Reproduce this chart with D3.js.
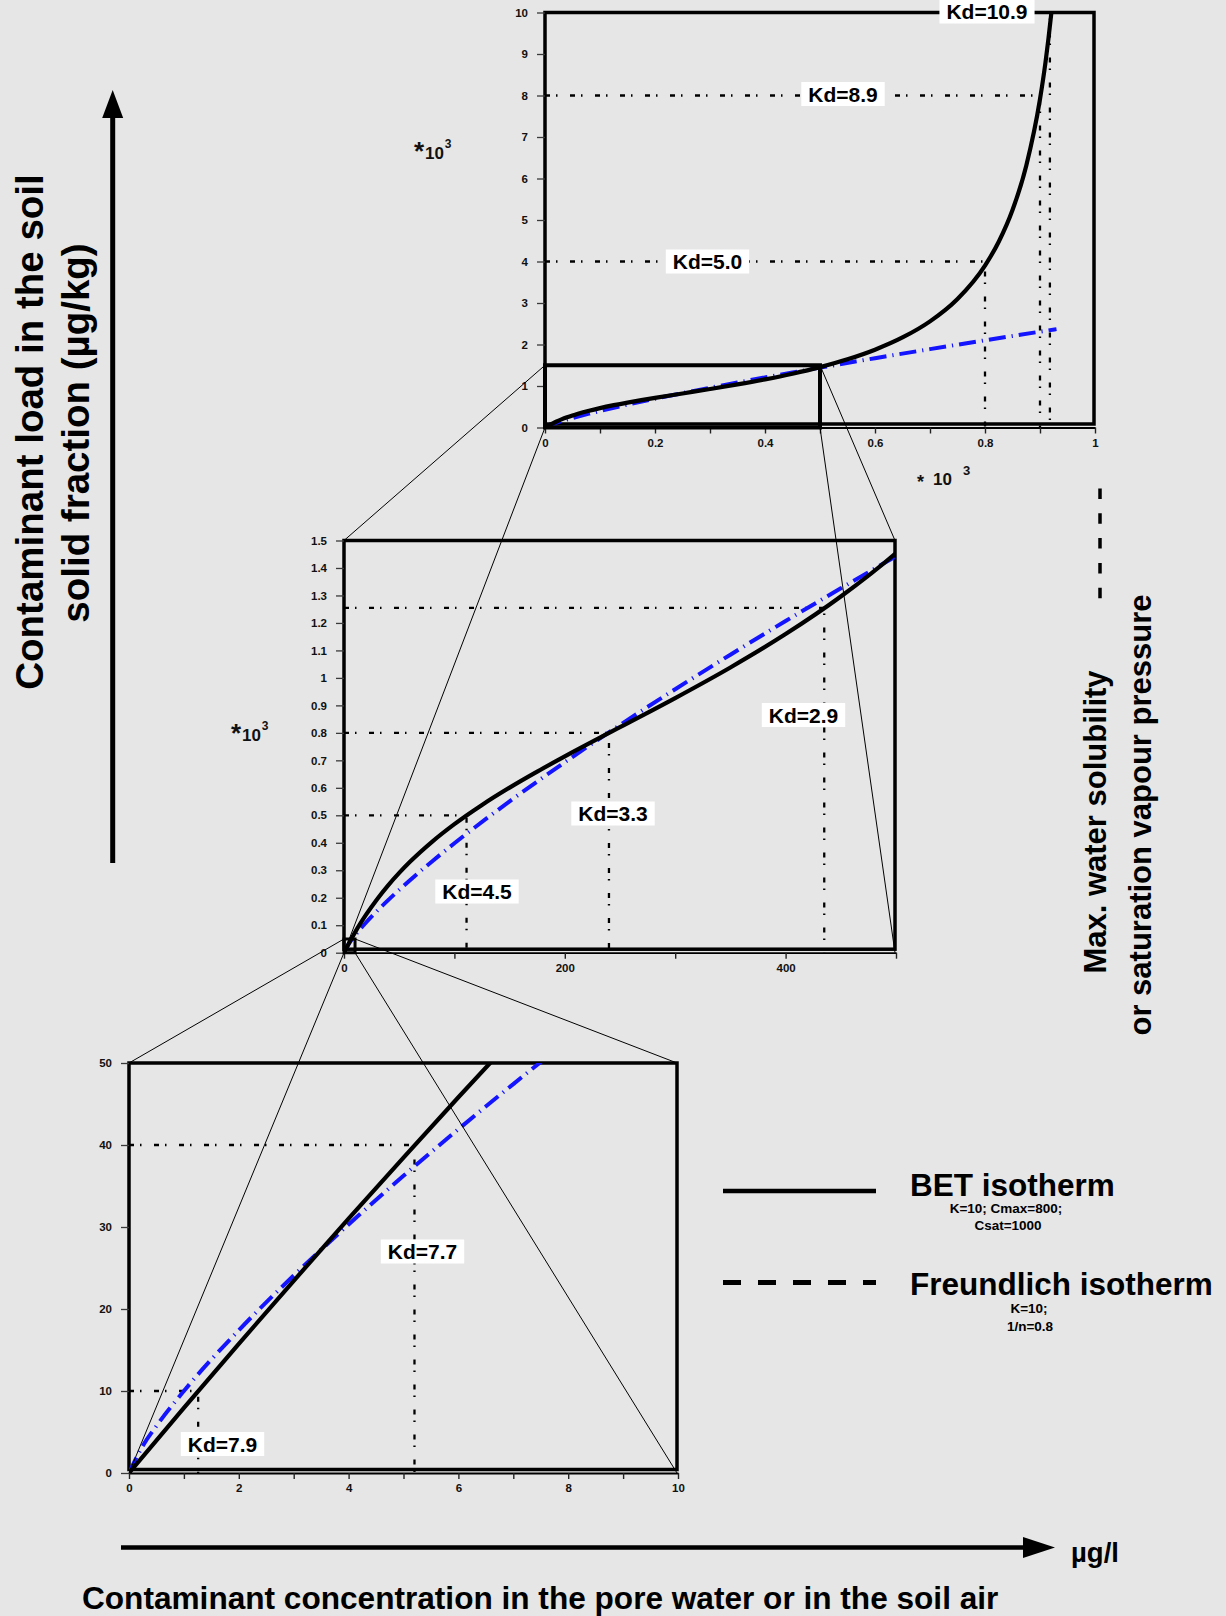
<!DOCTYPE html>
<html>
<head>
<meta charset="utf-8">
<script src="https://cdn.jsdelivr.net/npm/d3@7"></script>
<style>
  html, body { margin: 0; padding: 0; background: #e6e6e6; }
  svg { display: block; font-family: "Liberation Sans", Arial, Helvetica, sans-serif; font-weight: bold; }
</style>
</head>
<body>
<svg id="chart" width="1226" height="1616"></svg>
<script>
// BET isotherm (K=10; Cmax=800; Csat=1000): pore-water concentration (µg/l) and sorbed load (µg/kg)
const betConc = [0, 1, 2, 3, 4, 5, 6, 7, 8, 10, 15, 20, 30, 40, 50, 60, 80, 100, 125, 150, 175, 200,
  250, 300, 350, 400, 450, 500, 550, 600, 650, 700, 750, 800, 825, 850, 875, 900, 910, 920, 921];
const betLoad = [0, 7.94, 15.75, 23.44, 31.01, 38.47, 45.82, 53.05, 60.18, 74.1, 107.3, 138.4, 194.8,
  245.1, 290.4, 331.6, 404.4, 467.8, 537.8, 600.8, 659.0, 714.3, 820.5, 926.6, 1038.0, 1159.4, 1296.1,
  1454.5, 1643.3, 1875.0, 2168.9, 2557.1, 3096.8, 3902.4, 4476.4, 5240.8, 6309.9, 7911.9, 8801.8, 9914, 10041];

// Freundlich isotherm (K=10; 1/n=0.8)
const freundConc = [0, 0.25, 0.5, 1, 2, 3, 4, 5, 6, 7, 8, 10, 15, 20, 30, 40, 50, 60, 80, 100, 150, 200,
  250, 300, 350, 400, 450, 500, 600, 700, 800, 900, 930];
const freundLoad = [0, 3.30, 5.74, 10, 17.41, 24.08, 30.31, 36.24, 41.93, 47.43, 52.78, 63.10, 87.27,
  109.9, 152.0, 191.3, 228.7, 264.6, 333.1, 398.1, 550.7, 693.1, 828.7, 958.8, 1084.5, 1207, 1326,
  1442.7, 1669, 1889, 2101, 2309, 2370];

// Read-off points on the BET curve; Kd = load / concentration
const kdHighConc = [800, 900, 918];
const kdHighLoad = [4000, 8000, 10000];
const kdMidConc = [111, 240, 435];
const kdMidLoad = [500, 800, 1255];
const kdLowConc = [1.26, 5.2];
const kdLowLoad = [10, 40];

// Axis extents per magnification level
const highXMax = 1000, highYMax = 10000;
const midXMax = 500, midYMax = 1500;
const lowXMax = 10, lowYMax = 50;

// Tick values and their labels
const highXTicks = [0, 100, 200, 300, 400, 500, 600, 700, 800, 900, 1000];
const highXTickLabels = ["0", "", "0.2", "", "0.4", "", "0.6", "", "0.8", "", "1"];
const highYTicks = [0, 1000, 2000, 3000, 4000, 5000, 6000, 7000, 8000, 9000, 10000];
const highYTickLabels = ["0", "1", "2", "3", "4", "5", "6", "7", "8", "9", "10"];
const midXTicks = [0, 100, 200, 300, 400, 500];
const midXTickLabels = ["0", "", "200", "", "400", ""];
const midYTicks = [0, 100, 200, 300, 400, 500, 600, 700, 800, 900, 1000, 1100, 1200, 1300, 1400, 1500];
const midYTickLabels = ["0", "0.1", "0.2", "0.3", "0.4", "0.5", "0.6", "0.7", "0.8", "0.9", "1",
  "1.1", "1.2", "1.3", "1.4", "1.5"];
const lowXTicks = [0, 1, 2, 3, 4, 5, 6, 7, 8, 9, 10];
const lowXTickLabels = ["0", "", "2", "", "4", "", "6", "", "8", "", "10"];
const lowYTicks = [0, 10, 20, 30, 40, 50];
const lowYTickLabels = ["0", "10", "20", "30", "40", "50"];

const svg = d3.select("#chart");
const BLUE = "#1414ff";

const bet = betConc.map((c, i) => [c, betLoad[i]]);
const freund = freundConc.map((c, i) => [c, freundLoad[i]]);

// panel geometry (pixels)
const panels = [
  { id: "high", left: 545, right: 1095, bottom: 427.5, top: 12.5, xMax: highXMax, yMax: highYMax,
    xTicks: highXTicks, xLabels: highXTickLabels, yTicks: highYTicks, yLabels: highYTickLabels,
    kdC: kdHighConc, kdQ: kdHighLoad,
    labelPos: [[707.5, 261.5], [843, 94], [987, 11.5]] },
  { id: "mid", left: 344, right: 896, bottom: 952.7, top: 540.5, xMax: midXMax, yMax: midYMax,
    xTicks: midXTicks, xLabels: midXTickLabels, yTicks: midYTicks, yLabels: midYTickLabels,
    kdC: kdMidConc, kdQ: kdMidLoad,
    labelPos: [[477, 891.5], [613, 813.5], [803.5, 715]] },
  { id: "low", left: 129, right: 678, bottom: 1473, top: 1063, xMax: lowXMax, yMax: lowYMax,
    xTicks: lowXTicks, xLabels: lowXTickLabels, yTicks: lowYTicks, yLabels: lowYTickLabels,
    kdC: kdLowConc, kdQ: kdLowLoad,
    labelPos: [[222.5, 1444], [422.5, 1251.5]] }
];

const defs = svg.append("defs");
const layers = {
  frames: svg.append("g"),
  marks: svg.append("g"),
  zoom: svg.append("g"),
  labels: svg.append("g")
};

panels.forEach(p => {
  p.x = d3.scaleLinear().domain([0, p.xMax]).range([p.left, p.right]);
  p.y = d3.scaleLinear().domain([0, p.yMax]).range([p.bottom, p.top]);

  defs.append("clipPath").attr("id", "clip-" + p.id)
    .append("rect")
    .attr("x", p.left).attr("y", p.top)
    .attr("width", p.right - p.left).attr("height", p.bottom - p.top);

  const g = layers.frames.append("g");

  // plot frame
  g.append("rect")
    .attr("x", p.left).attr("y", p.top)
    .attr("width", p.right - p.left - 1).attr("height", p.bottom - 3.5 - p.top)
    .attr("fill", "none").attr("stroke", "#000").attr("stroke-width", 3.5);

  // y axis
  const ya = g.append("g").attr("transform", `translate(${p.left},0)`)
    .call(d3.axisLeft(p.y).tickValues(p.yTicks).tickFormat((d, i) => p.yLabels[i])
      .tickSize(8).tickPadding(9));
  ya.select(".domain").remove();
  ya.selectAll(".tick line").attr("stroke", "#3a3a3a").attr("stroke-width", 1.3);
  ya.selectAll("text").attr("font-size", 11.5).attr("font-weight", "bold")
    .attr("font-family", "'Liberation Sans', Arial, sans-serif").attr("fill", "#111");

  // x axis
  const xa = g.append("g").attr("transform", `translate(0,${p.bottom})`)
    .call(d3.axisBottom(p.x).tickValues(p.xTicks).tickFormat((d, i) => p.xLabels[i])
      .tickSize(6).tickSizeOuter(0).tickPadding(5));
  xa.select(".domain").attr("stroke", "#000").attr("stroke-width", 1.8);
  xa.selectAll(".tick line").attr("stroke", "#222").attr("stroke-width", 1.4);
  xa.selectAll("text").attr("font-size", 11.5).attr("font-weight", "bold")
    .attr("font-family", "'Liberation Sans', Arial, sans-serif").attr("fill", "#111");

  const m = layers.marks.append("g").attr("clip-path", `url(#clip-${p.id})`);

  // Kd read-off lines
  p.kdC.forEach((c, i) => {
    const q = p.kdQ[i];
    m.append("path")
      .attr("d", `M${p.x(0)},${p.y(q)}H${p.x(c)}V${p.y(0)}`)
      .attr("fill", "none").attr("stroke", "#000").attr("stroke-width", 2.3)
      .attr("stroke-dasharray", "5,6,1.5,12.5");
  });

  const line = d3.line().x(d => p.x(d[0])).y(d => p.y(d[1])).curve(d3.curveMonotoneX);

  m.append("path").datum(freund).attr("d", line)
    .attr("fill", "none").attr("stroke", BLUE).attr("stroke-width", 4)
    .attr("stroke-dasharray", "17,6,1.2,6");

  m.append("path").datum(bet).attr("d", line)
    .attr("fill", "none").attr("stroke", "#000").attr("stroke-width", 4.2)
    .attr("stroke-linejoin", "round");

  // Kd labels
  p.kdC.forEach((c, i) => {
    const q = p.kdQ[i];
    const [cx, cy] = p.labelPos[i];
    const lg = layers.labels.append("g");
    const box = lg.append("rect").attr("fill", "#fff");
    const t = lg.append("text")
      .attr("x", cx).attr("y", cy + 7.5)
      .attr("text-anchor", "middle").attr("font-size", 21).attr("fill", "#000")
      .text("Kd=" + (q / c).toFixed(1));
    const w = t.node().getComputedTextLength() + 14;
    box.attr("x", cx - w / 2).attr("y", cy - 12).attr("width", w).attr("height", 24);
  });
});

// magnified regions and their connector lines
function zoomLink(src, dst, xMax, yMax, sw) {
  const x0 = src.x(0), x1 = src.x(xMax), y0 = src.y(0), y1 = src.y(yMax);
  layers.zoom.append("path")
    .attr("d", `M${x0},${y1}H${x1}V${y0}H${x0}Z`)
    .attr("fill", "none").attr("stroke", "#000").attr("stroke-width", sw);
  const pairs = [
    [[x0, y1], [dst.left, dst.top]],
    [[x1, y1], [dst.right - 1, dst.top]],
    [[x0, y0], [dst.left, dst.bottom]],
    [[x1, y0], [dst.right - 1, dst.bottom]]
  ];
  pairs.forEach(([a, b]) => {
    layers.zoom.append("line")
      .attr("x1", a[0]).attr("y1", a[1]).attr("x2", b[0]).attr("y2", b[1])
      .attr("stroke", "#000").attr("stroke-width", 1);
  });
}
zoomLink(panels[0], panels[1], midXMax, midYMax, 4);
zoomLink(panels[1], panels[2], lowXMax, lowYMax, 3);

// scale annotations (×10³)
const ann = svg.append("g").attr("fill", "#111");
function powerLabel(x, y, starSize, baseSize, expSize, gap) {
  ann.append("text").attr("x", x).attr("y", y + 1).attr("font-size", starSize).text("*");
  ann.append("text").attr("x", x + gap).attr("y", y).attr("font-size", baseSize).text("10");
  ann.append("text").attr("x", x + gap + baseSize * 1.16).attr("y", y - 11).attr("font-size", expSize).text("3");
}
powerLabel(414, 159, 26, 17, 12, 11);
powerLabel(231, 741, 26, 17, 12, 11);
ann.append("text").attr("x", 917).attr("y", 488).attr("font-size", 18).text("*");
ann.append("text").attr("x", 933).attr("y", 485).attr("font-size", 17).text("10");
ann.append("text").attr("x", 963).attr("y", 475).attr("font-size", 13).text("3");

// axis arrows
const arrows = svg.append("g");
arrows.append("line").attr("x1", 112.7).attr("y1", 863).attr("x2", 112.7).attr("y2", 112)
  .attr("stroke", "#000").attr("stroke-width", 5);
arrows.append("path").attr("d", "M112.7,90L123.2,118L102.2,118Z").attr("fill", "#000");
arrows.append("line").attr("x1", 121).attr("y1", 1547.5).attr("x2", 1030).attr("y2", 1547.5)
  .attr("stroke", "#000").attr("stroke-width", 4.5);
arrows.append("path").attr("d", "M1055,1547.5L1023,1537L1023,1558Z").attr("fill", "#000");

// axis titles
const titles = svg.append("g").attr("fill", "#000");
titles.append("text").attr("transform", "translate(43,432) rotate(-90)")
  .attr("text-anchor", "middle").attr("font-size", 38.5).text("Contaminant load in the soil");
titles.append("text").attr("transform", "translate(88.5,433) rotate(-90)")
  .attr("text-anchor", "middle").attr("font-size", 38.5).text("solid fraction (µg/kg)");
titles.append("text").attr("x", 82).attr("y", 1609).attr("font-size", 31.6)
  .text("Contaminant concentration in the pore water or in the soil air");
titles.append("text").attr("x", 1071).attr("y", 1562).attr("font-size", 27.5).text("µg/l");

// solubility limit marker
titles.append("line").attr("x1", 1100).attr("y1", 488.5).attr("x2", 1100).attr("y2", 600)
  .attr("stroke", "#000").attr("stroke-width", 3.5).attr("stroke-dasharray", "10.5,14.3");
titles.append("text").attr("transform", "translate(1106,822) rotate(-90)")
  .attr("text-anchor", "middle").attr("font-size", 31).text("Max. water solubility");
titles.append("text").attr("transform", "translate(1151,815) rotate(-90)")
  .attr("text-anchor", "middle").attr("font-size", 31).text("or saturation vapour pressure");

// legend
const legend = svg.append("g").attr("fill", "#000");
legend.append("line").attr("x1", 723).attr("x2", 876).attr("y1", 1191).attr("y2", 1191)
  .attr("stroke", "#000").attr("stroke-width", 4.5);
legend.append("text").attr("x", 910).attr("y", 1196).attr("font-size", 31.5).text("BET isotherm");
legend.append("text").attr("x", 1006).attr("y", 1213).attr("font-size", 13.5)
  .attr("text-anchor", "middle").text("K=10; Cmax=800;");
legend.append("text").attr("x", 1008).attr("y", 1230).attr("font-size", 13.5)
  .attr("text-anchor", "middle").text("Csat=1000");
legend.append("line").attr("x1", 723).attr("x2", 876).attr("y1", 1282.5).attr("y2", 1282.5)
  .attr("stroke", "#000").attr("stroke-width", 5).attr("stroke-dasharray", "18,17");
legend.append("text").attr("x", 910).attr("y", 1295).attr("font-size", 31.5).text("Freundlich isotherm");
legend.append("text").attr("x", 1029).attr("y", 1313).attr("font-size", 13.5)
  .attr("text-anchor", "middle").text("K=10;");
legend.append("text").attr("x", 1030).attr("y", 1331).attr("font-size", 13.5)
  .attr("text-anchor", "middle").text("1/n=0.8");
</script>
</body>
</html>
